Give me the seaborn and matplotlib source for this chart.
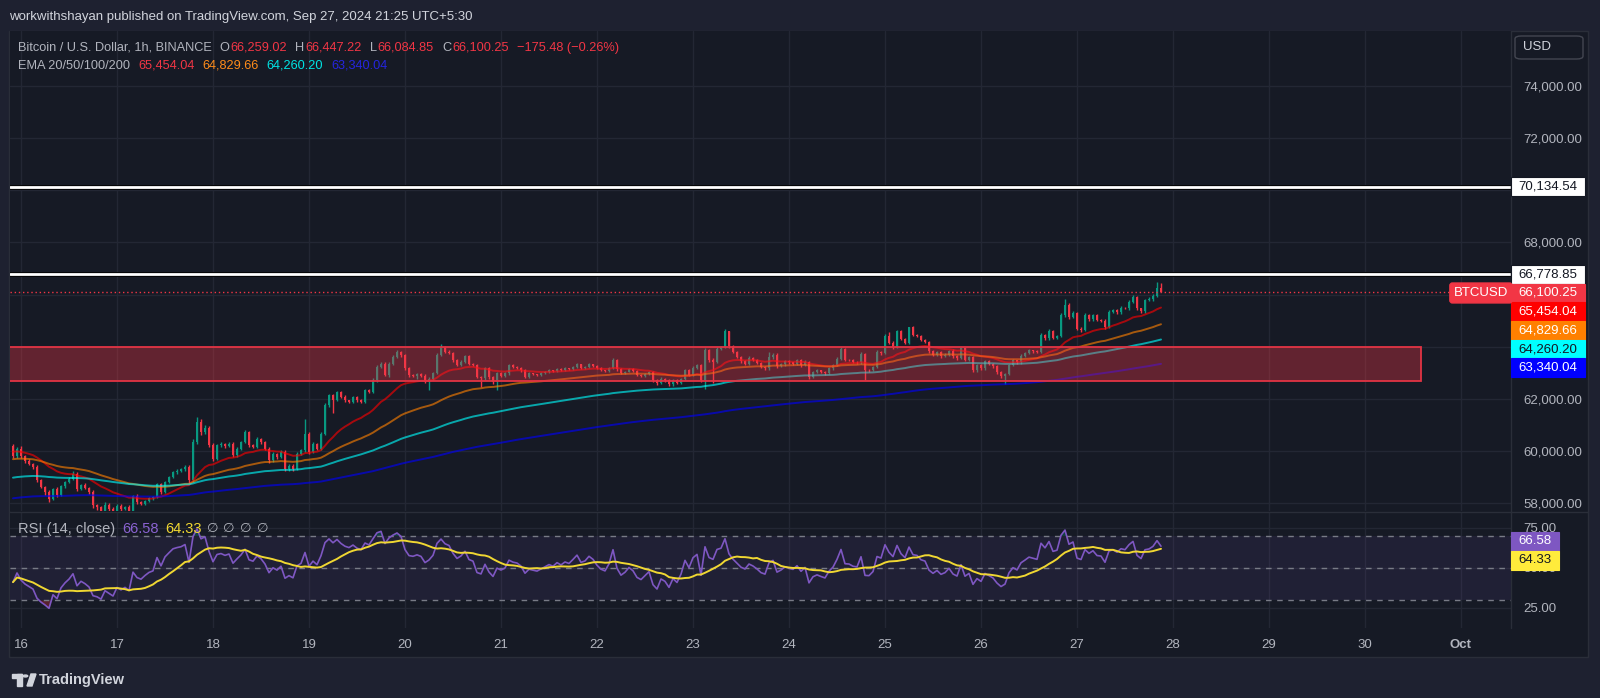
import numpy as np
import pandas as pd
import matplotlib
matplotlib.use("Agg")
import matplotlib.pyplot as plt
import matplotlib.patheffects as pe
from matplotlib.patches import Rectangle, FancyBboxPatch, Circle, Polygon
import seaborn as sns

W, H = 1600, 698

# BTCUSD 1h closes, Sep 15 22:00 -> Sep 27 21:00 (UTC+5:30), one line per day
close = [
    59800, 60100,
    59800, 59620, 59500, 59380, 58880, 58630, 58430, 58180, 58560, 58310, 58650, 58820,
    58950, 59140, 58560, 58720, 58600, 58430, 57920, 57850, 57700, 57950, 57800, 57650,
    57900, 57780, 57850, 57700, 58280, 58050, 57980, 58100, 58200, 58250, 58730, 58450,
    58820, 59010, 59200, 59260, 59300, 59400, 58880, 60370, 61120, 60720, 60900, 60250,
    59700, 60220, 60290, 60200, 60290, 59840, 60100, 60350, 60730, 60230, 60160, 60480,
    60350, 60100, 59650, 59900, 59780, 59970, 59330, 59450, 59330, 59900, 60030, 60670,
    59970, 60290, 60100, 60670, 61760, 62140, 61950, 62270, 62080, 61950, 61890, 62080,
    61950, 61890, 62340, 62270, 62720, 63230, 63360, 62910, 63360, 63610, 63800, 63680,
    63170, 62910, 62880, 62960, 62900, 62660, 62780, 63000, 63680, 63980, 63820, 63760,
    63490, 63300, 63420, 63650, 63360, 63300, 62850, 62790, 63170, 62850, 62650, 62980,
    62900, 62980, 63300, 63230, 63200, 63100, 62850, 62980, 62950, 62920, 62980, 63040,
    63100, 63060, 63150, 63100, 63170, 63140, 63230, 63330, 63200, 63230, 63330, 63280,
    63180, 63110, 63080, 63200, 63500, 63150, 62990, 63050, 63150, 63080, 62930, 62880,
    62950, 63020, 62720, 62600, 62780, 62720, 62560, 62720, 62620, 62780, 63100, 62930,
    63200, 63300, 62740, 63870, 63490, 63420, 63930, 64000, 64600, 64030, 63800, 63620,
    63440, 63360, 63580, 63500, 63380, 63230, 63170, 63600, 63700, 63250, 63330, 63450,
    63400, 63360, 63480, 63300, 63420, 62850, 63040, 63100, 63040, 62990, 63180, 63300,
    63550, 63930, 63500, 63490, 63420, 63400, 63740, 63110, 63100, 63230, 63800, 63750,
    64400, 64150, 64000, 64600, 64300, 64150, 64750, 64450, 64420, 64250, 64200, 63830,
    63690, 63800, 63640, 63700, 63850, 63640, 63560, 63950, 63500, 63600, 63100, 63300,
    63170, 63450, 63360, 63260, 63040, 62880, 62950, 63300, 63480, 63400, 63650, 63750,
    63860, 63830, 63800, 64440, 64320, 64620, 64350, 64400, 65210, 65600, 65150, 65300,
    64700, 64640, 65200, 65050, 65200, 65020, 65000, 64770, 65340, 65400, 65320, 65500,
    65470, 65720, 65900, 65470, 65360, 65780, 65820, 65950, 66259.02, 66100.25,
]
first_open = 60200

# wick sizes above / below the candle body (USD)
wick_up = [
    60, 80,
    90, 60, 70, 50, 80, 60, 50, 70, 40, 60, 50, 40, 60, 90, 50, 40, 60, 40, 70, 60, 50, 120, 60, 50,
    80, 60, 40, 70, 60, 80, 50, 40, 60, 50, 70, 60, 50, 40, 60, 50, 40, 90, 60, 80, 200, 120, 90, 60,
    80, 60, 50, 40, 60, 50, 70, 60, 90, 50, 60, 70, 40, 60, 50, 80, 40, 60, 70, 50, 60, 80, 60, 580,
    70, 60, 40, 80, 90, 70, 60, 50, 40, 60, 30, 50, 40, 60, 50, 40, 70, 80, 60, 50, 40, 60, 80, 50,
    60, 40, 50, 30, 40, 50, 60, 40, 70, 120, 40, 50, 40, 30, 60, 50, 40, 30, 50, 40, 60, 50, 40, 60,
    50, 40, 60, 30, 40, 30, 50, 40, 30, 20, 40, 30, 40, 30, 50, 30, 40, 30, 50, 40, 30, 40, 50, 30,
    40, 30, 20, 40, 80, 50, 40, 30, 50, 30, 40, 30, 30, 40, 50, 40, 60, 30, 40, 50, 30, 40, 60, 40,
    50, 60, 40, 80, 60, 70, 60, 50, 100, 20, 40, 30, 30, 40, 60, 30, 40, 30, 40, 200, 60, 50, 40, 50,
    40, 30, 50, 40, 60, 40, 30, 40, 30, 40, 50, 40, 60, 80, 40, 50, 30, 40, 60, 40, 30, 40, 60, 50,
    80, 180, 60, 40, 50, 40, 20, 30, 40, 50, 30, 40, 30, 50, 40, 60, 40, 50, 30, 40, 60, 40, 30, 50,
    40, 50, 40, 30, 40, 30, 60, 50, 40, 30, 60, 40, 50, 30, 40, 90, 40, 60, 40, 50, 80, 250, 60, 70,
    50, 40, 80, 40, 50, 40, 30, 50, 60, 40, 30, 50, 40, 60, 80, 40, 30, 60, 70, 90, 240, 188.2,
]
wick_dn = [
    70, 60,
    50, 60, 40, 80, 60, 50, 90, 120, 60, 50, 40, 60, 50, 40, 70, 50, 60, 80, 90, 100, 150, 60, 80, 150,
    60, 80, 50, 90, 60, 70, 60, 50, 40, 60, 50, 80, 40, 50, 40, 60, 50, 40, 120, 60, 80, 100, 70, 90,
    60, 50, 40, 60, 50, 70, 60, 50, 40, 60, 50, 40, 60, 70, 120, 50, 60, 40, 100, 70, 90, 60, 50, 70,
    80, 50, 60, 40, 50, 60, 500, 40, 60, 50, 40, 60, 50, 40, 60, 50, 40, 60, 50, 40, 60, 50, 40, 60,
    50, 60, 40, 120, 50, 60, 320, 40, 50, 40, 60, 50, 60, 40, 50, 40, 60, 50, 40, 340, 60, 70, 80, 300,
    60, 40, 50, 30, 40, 50, 60, 50, 40, 30, 40, 30, 40, 30, 40, 30, 40, 30, 40, 30, 50, 40, 30, 40,
    40, 30, 40, 30, 40, 60, 50, 40, 30, 40, 50, 40, 30, 40, 60, 50, 40, 60, 80, 50, 40, 50, 40, 60,
    50, 40, 80, 340, 60, 820, 40, 50, 40, 60, 50, 40, 50, 60, 40, 50, 40, 60, 50, 40, 60, 80, 40, 50,
    40, 50, 40, 60, 50, 80, 40, 50, 40, 60, 40, 50, 40, 60, 50, 40, 50, 40, 60, 390, 50, 40, 60, 50,
    40, 60, 80, 50, 40, 60, 40, 50, 60, 40, 50, 80, 60, 40, 50, 40, 60, 50, 70, 40, 60, 50, 80, 60,
    50, 60, 40, 60, 70, 80, 300, 40, 50, 60, 40, 50, 40, 60, 50, 40, 60, 50, 70, 60, 40, 50, 70, 50,
    60, 70, 50, 60, 50, 40, 60, 80, 50, 40, 60, 50, 40, 50, 40, 60, 70, 50, 40, 60, 50, 15.4,
]
assert len(close) == len(wick_up) == len(wick_dn) == 288

# EMA warm-up values just before the first visible bar, and last values shown
ema_spans = [20, 50, 100, 200]
ema_seed = [60000, 59690, 58970, 58180]
ema_last = [65454.04, 64829.66, 64260.20, 63340.04]
ema_colors = ["#FF0000", "#FF8000", "#00FFFF", "#0000FF"]
rsi_seed_gain, rsi_seed_loss = 95.0, 105.0
rsi_last, rsi_ma_last = 66.58, 64.33

# drawings
lines_white = [70134.54, 66778.85]
zone_low, zone_high, zone_end = 62690, 63990, 350
day_labels = ["16", "17", "18", "19", "20", "21", "22", "23", "24", "25", "26", "27", "28", "29", "30", "Oct"]

BG = "#161a25"
OUTER = "#1e2130"
GRID = "#232734"
GRAY = "#b2b5be"
UP, DN = "#089981", "#F23645"

hours = np.arange(-2, len(close) - 2)
c = np.array(close, dtype=float)
o = np.r_[first_open, c[:-1]]
hi = np.maximum(o, c) + np.array(wick_up)
lo = np.minimum(o, c) - np.array(wick_dn)
col = np.where(c >= o, UP, DN)

def ema(series, span, seed):
    s = pd.concat([pd.Series([seed]), pd.Series(series)], ignore_index=True)
    return s.ewm(span=span, adjust=False).mean().iloc[1:].to_numpy()

emas = [ema(c, n, s) for n, s in zip(ema_spans, ema_seed)]
ema_df = pd.concat([pd.DataFrame({"hour": hours, "value": e, "ema": str(n)})
                    for e, n in zip(emas, ema_spans)], ignore_index=True)

# Wilder RSI 14 and its 14 SMA
diff = np.diff(np.r_[first_open, c])
ag, al = rsi_seed_gain, rsi_seed_loss
rsi = []
for d in diff:
    ag = (ag * 13 + max(d, 0)) / 14
    al = (al * 13 + max(-d, 0)) / 14
    rsi.append(100 - 100 / (1 + ag / al))
rsi = np.array(rsi)
rsi_ma = pd.Series(rsi).rolling(14, min_periods=1).mean().to_numpy()

sns.set_theme(style="dark", rc={"axes.facecolor": BG, "figure.facecolor": OUTER})
plt.rcParams["font.family"] = ["Liberation Sans", "DejaVu Sans"]

fig = plt.figure(figsize=(W / 100, H / 100), dpi=100)

def fr(x0, y0, x1, y1):
    return [x0 / W, 1 - y1 / H, (x1 - x0) / W, (y1 - y0) / H]

fig.patches.append(Rectangle((9 / W, 1 - 657 / H), 1579 / W, 626 / H, transform=fig.transFigure,
                             facecolor=BG, edgecolor="#2a2e39", lw=1, zorder=-1))
ax = fig.add_axes(fr(10, 31, 1511, 511))
ax2 = fig.add_axes(fr(10, 512, 1511, 628))
xlim = (-2.75, 372.5)
day_pos = np.arange(0, 24 * len(day_labels), 24)

for a in (ax, ax2):
    a.set_facecolor(BG)
    a.set_xlim(*xlim)
    for s in a.spines.values():
        s.set_visible(False)
    a.set_xticks(day_pos)
    a.grid(True, color=GRID, lw=1)
    a.yaxis.tick_right()
    a.tick_params(axis="y", length=0, pad=9, labelsize=9.5, labelcolor=GRAY)
ax.set_xticklabels([])
ax.tick_params(axis="x", length=0)
ax2.set_xticklabels(day_labels)
ax2.tick_params(axis="x", length=0, pad=8, labelsize=9.5, labelcolor=GRAY)
ax2.get_xticklabels()[-1].set_fontweight("bold")

# price pane
price_ticks = np.arange(58000, 76000, 2000)
ax.set_ylim(57709, 76100)
ax.set_yticks(price_ticks)

ax.vlines(hours, lo, hi, colors=col, lw=1, zorder=3)
ax.bar(hours, np.maximum(np.abs(c - o), 12), bottom=np.minimum(o, c), width=0.72,
       color=col, linewidth=0, zorder=3.2)
sns.lineplot(data=ema_df, x="hour", y="value", hue="ema", palette=ema_colors, ax=ax,
             lw=1.4, alpha=0.62, legend=False, zorder=3.5)

ax.add_patch(Rectangle((xlim[0] - 5, zone_low), zone_end - xlim[0] + 5, zone_high - zone_low,
                       facecolor=(242 / 255, 54 / 255, 69 / 255, 0.35), edgecolor="#e23444",
                       lw=1.3, zorder=5))
for p in lines_white:
    ax.axhline(p, color="white", lw=2, zorder=6,
               path_effects=[pe.Stroke(linewidth=3.6, foreground="#050608"), pe.Normal()])
ax.axhline(c[-1], color=DN, lw=1, ls=(0, (1, 2)), zorder=6)

# RSI pane
ax2.set_ylim(12.5, 85)
ax2.set_yticks([75, 50, 25])
ax2.set_yticklabels(["75.00", "50.00", "25.00"])
ax2.axhspan(30, 70, color="#7E57C2", alpha=0.1, lw=0)
for lv in (70, 50, 30):
    ax2.axhline(lv, color="#787B86", lw=1, ls=(0, (4, 4)))
ax2.fill_between(hours, 70, rsi, where=rsi > 70, interpolate=True, color="#089981", alpha=0.3, lw=0)
ax2.fill_between(hours, 30, rsi, where=rsi < 30, interpolate=True, color="#F23645", alpha=0.3, lw=0)
sns.lineplot(x=hours, y=rsi, ax=ax2, color="#7E57C2", lw=1.2, zorder=4)
sns.lineplot(x=hours, y=rsi_ma, ax=ax2, color="#F0D732", lw=1.4, zorder=4.2)
for a in (ax, ax2):
    a.set_xlabel("")
    a.set_ylabel("")

# separators
fig.add_artist(plt.Line2D([10 / W, 1588 / W], [1 - 511.5 / H] * 2, color="#2a2e39", lw=1))
fig.add_artist(plt.Line2D([1511 / W] * 2, [1 - 31 / H, 1 - 628 / H], color="#2a2e39", lw=1))

# right-hand value labels, stacked so they do not overlap
STEP = 18.7

def stack_labels(axis, items, width):
    items = sorted(items, key=lambda t: -t[0])
    prev, ys = None, []
    for val, text, fc, tc in items:
        y = axis.transData.transform((0, val))[1]
        if prev is not None:
            y = min(y, prev - STEP)
        prev = y
        ys.append(y)
        fig.patches.append(Rectangle((1511 / W, (y - STEP / 2) / H), width / W, STEP / H,
                                     transform=fig.transFigure, fc=fc,
                                     ec="#131722" if fc == "white" else fc, lw=0.8, zorder=2))
        fig.text((1511 + width / 2) / W, y / H, text, ha="center", va="center", fontsize=9.5,
                 color=tc, zorder=3)
    return ys

price_items = [(lines_white[0], f"{lines_white[0]:,.2f}", "white", "#131722"),
               (lines_white[1], f"{lines_white[1]:,.2f}", "white", "#131722"),
               (c[-1], f"{c[-1]:,.2f}", DN, "white")]
for v, fc in zip(ema_last, ema_colors):
    price_items.append((v, f"{v:,.2f}", fc, "#131722" if fc == "#00FFFF" else "white"))
label_y = stack_labels(ax, price_items, 74)

# tick labels hidden behind a value label are left out, as on the chart
tick_text = []
for t in price_ticks:
    ty = ax.transData.transform((0, t))[1]
    tick_text.append("" if min(abs(ty - y) for y in label_y) < 15 else f"{t:,.2f}")
ax.set_yticklabels(tick_text)

ycur = ax.transData.transform((0, c[-1]))[1]
y7 = ax.transData.transform((0, lines_white[1]))[1]
fig.text(1481 / W, min(ycur, y7 - STEP) / H, "BTCUSD", ha="center", va="center", fontsize=9.5,
         color="white", bbox=dict(boxstyle="round,pad=0.3,rounding_size=0.2", fc=DN, ec=DN))
stack_labels(ax2, [(rsi_last, f"{rsi_last:.2f}", "#7E57C2", "white"),
                   (rsi_ma_last, f"{rsi_ma_last:.2f}", "#FFEB3B", "#131722")], 48)

# header texts
renderer = fig.canvas.get_renderer()

def chain(x, y, pieces, size=9.2):
    for txt, color, gap in pieces:
        t = fig.text(x / W, 1 - y / H, txt, color=color, fontsize=size, va="center", ha="left")
        x = t.get_window_extent(renderer).x1 + gap

fig.text(9 / W, 1 - 17 / H, "workwithshayan published on TradingView.com, Sep 27, 2024 21:25 UTC+5:30",
         color="#d1d4dc", fontsize=9.5, va="center", ha="left")
chain(18, 48, [("Bitcoin / U.S. Dollar, 1h, BINANCE", GRAY, 8), ("O", GRAY, 1), ("66,259.02", DN, 8),
               ("H", GRAY, 1), ("66,447.22", DN, 8), ("L", GRAY, 1), ("66,084.85", DN, 8),
               ("C", GRAY, 1), ("66,100.25", DN, 8), ("\u2212175.48 (\u22120.26%)", DN, 0)])
chain(18, 66, [("EMA 20/50/100/200", GRAY, 8)] +
      [(f"{v:,.2f}", cc, 8) for v, cc in zip(ema_last, ["#F23645", "#FF8C1A", "#00E5E5", "#2525E0"])])
chain(18, 529, [("RSI (14, close)", GRAY, 7), (f"{rsi_last:.2f}", "#8A63D2", 7),
                (f"{rsi_ma_last:.2f}", "#F0D732", 8)], size=10.5)
chain(207, 529, [("\u2205", GRAY, 5), ("\u2205", GRAY, 5), ("\u2205", GRAY, 5), ("\u2205", GRAY, 0)],
      size=9.5)

# USD box
fig.patches.append(FancyBboxPatch((1515 / W, 1 - 59 / H), 68 / W, 23 / H, transform=fig.transFigure,
                                  boxstyle="round,pad=0,rounding_size=0.004", fc=BG, ec="#434651", lw=1))
fig.text(1523 / W, 1 - 47.5 / H, "USD", color="#d1d4dc", fontsize=9.5, va="center", ha="left")

# TradingView logo
lg = "#d1d4dc"
fig.patches.append(Rectangle((12 / W, 1 - 678 / H), 10 / W, 4 / H, transform=fig.transFigure, color=lg))
fig.patches.append(Rectangle((17 / W, 1 - 686 / H), 5 / W, 12 / H, transform=fig.transFigure, color=lg))
fig.patches.append(Circle((25.5 / W, 1 - 676 / H), 2.2 / W, transform=fig.transFigure, color=lg))
fig.patches.append(Polygon([(27 / W, 1 - 686 / H), (31 / W, 1 - 674 / H), (36 / W, 1 - 674 / H),
                            (32 / W, 1 - 686 / H)], closed=True, transform=fig.transFigure, color=lg))
fig.text(39 / W, 1 - 680 / H, "TradingView", color=lg, fontsize=10.5, fontweight="bold",
         va="center", ha="left")

fig.savefig("out.png", dpi=100, facecolor=OUTER)
